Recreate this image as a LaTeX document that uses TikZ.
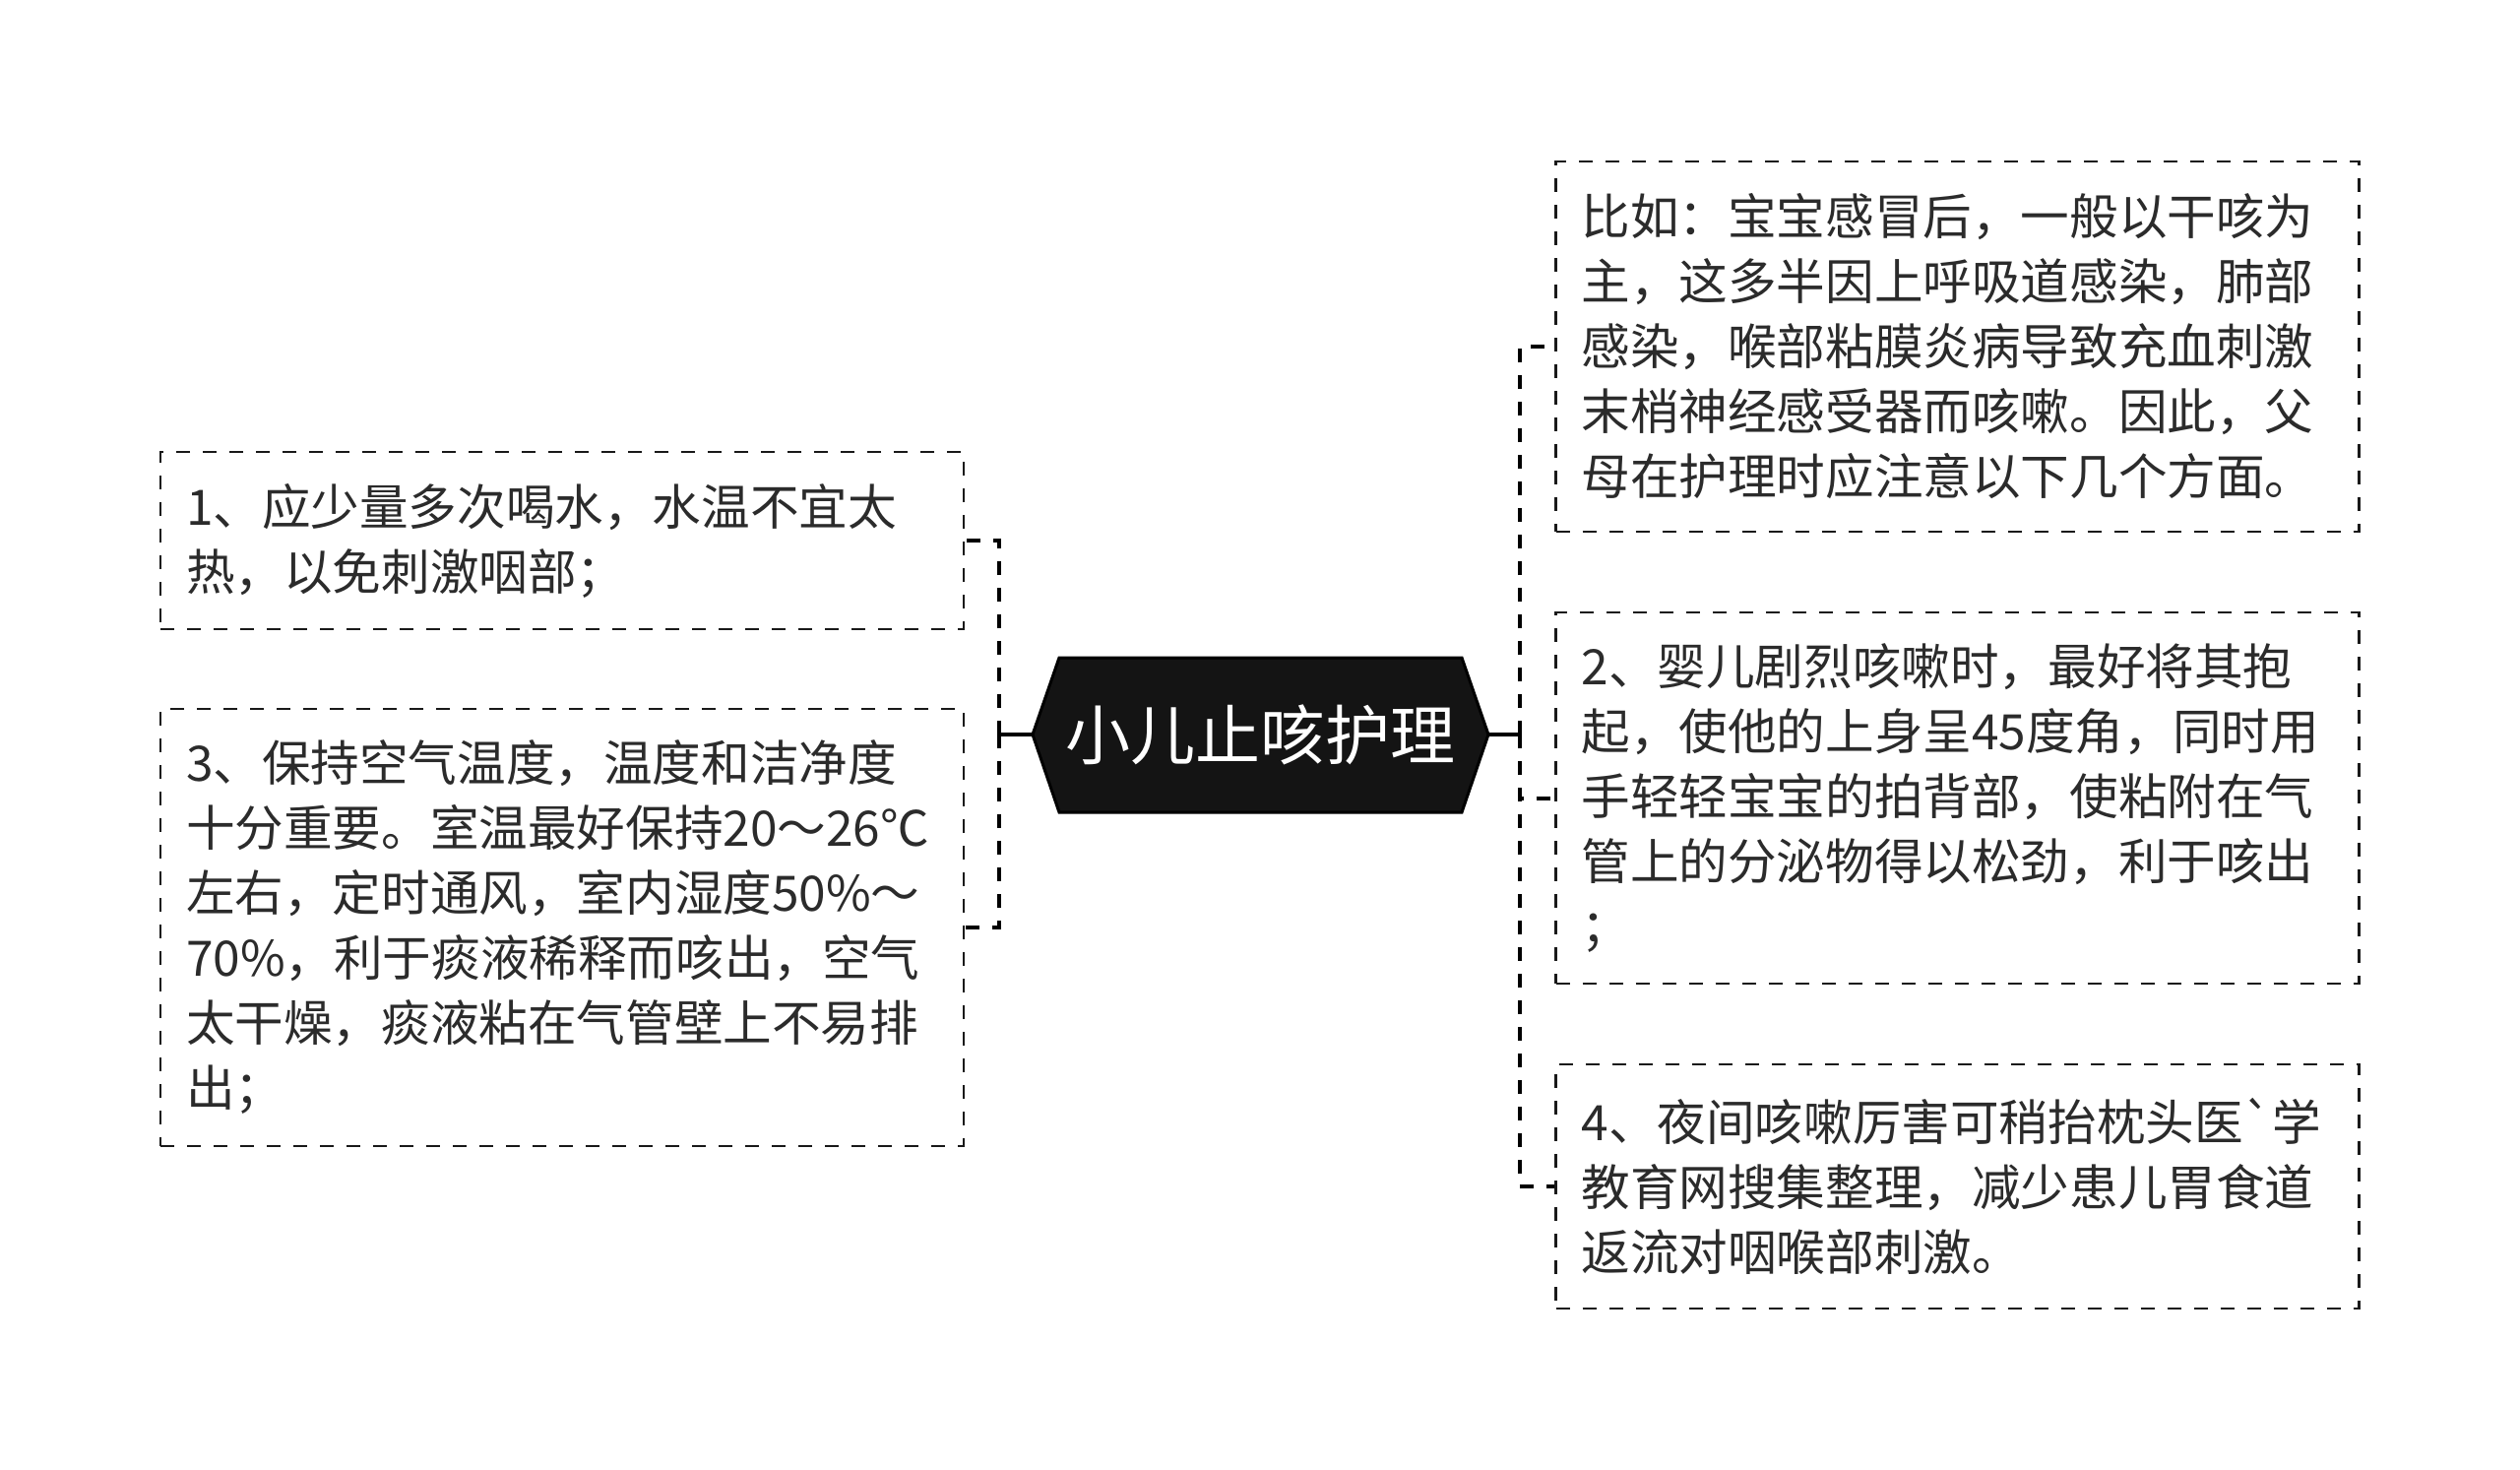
\documentclass[tikz,border=0pt]{standalone}
\usepackage{fontspec}
\setmainfont{Noto Sans CJK SC}
\definecolor{ink}{HTML}{2B2B2B}
\newcommand{\gravemark}{\XeTeXglyph\XeTeXcharglyph"60\relax}
\begin{document}
\begin{tikzpicture}[x=1pt,y=-1pt,
  leaf/.style={draw=black!90, line width=2.4pt, dash pattern=on 14pt off 13pt,
    minimum width=816pt, text width=764pt, inner xsep=26pt, inner ysep=0pt,
    align=left, text=ink, font=\fontsize{49.6}{66}\selectfont, anchor=center},
  link/.style={line width=4pt, dash pattern=on 14pt off 13pt, draw=black},
  stub/.style={line width=4pt, draw=black},
  hexa/.style={fill=black!92, draw=black, line width=3pt, line join=miter}]
\useasboundingbox (0,0) rectangle (2560,1493);
% central node
\path[hexa] (1049,746) -- (1076,668) -- (1485,668) -- (1512,746) -- (1485,825) -- (1076,825) -- cycle;
\node[text=white, font=\fontsize{66}{72}\selectfont, minimum width=463pt, minimum height=157pt, inner sep=0pt] (root) at (1280.5,746) {小儿止咳护理};
% left boxes
\node[leaf, minimum height=180pt] (b1) at (571,549) {1、应少量多次喝水，水温不宜太\\热，以免刺激咽部；};
\node[leaf, minimum height=444pt] (b3) at (571,942) {3、保持空气温度，温度和洁净度\\十分重要。室温最好保持20～26℃\\左右，定时通风，室内湿度50\%～\\70\%，利于痰液稀释而咳出，空气\\太干燥，痰液粘在气管壁上不易排\\出；};
% right boxes
\node[leaf, minimum height=376pt] (ba) at (1988.5,352) {比如：宝宝感冒后，一般以干咳为\\主，这多半因上呼吸道感染，肺部\\感染，喉部粘膜炎病导致充血刺激\\末梢神经感受器而咳嗽。因此，父\\母在护理时应注意以下几个方面。};
\node[leaf, minimum height=377pt] (b2) at (1988.5,810.5) {2、婴儿剧烈咳嗽时，最好将其抱\\起，使他的上身呈45度角，同时用\\手轻轻宝宝的拍背部，使粘附在气\\管上的分泌物得以松劲，利于咳出\\；};
\node[leaf, minimum height=248pt] (b4) at (1988.5,1205) {4、夜间咳嗽厉害可稍抬枕头医\gravemark 学\\教育网搜集整理，减少患儿胃食道\\返流对咽喉部刺激。};
% connectors
\coordinate (jl) at (1015,746);
\coordinate (jr) at (1544,746);
\draw[stub] (root.west) -- (jl);
\draw[stub] (root.east) -- (jr);
\draw[link] (jl) |- (b1.east);
\draw[link] (jl) |- (b3.east);
\draw[link] (jr) |- (ba.west);
\draw[link] (jr) |- (b2.west);
\draw[link] (jr) |- (b4.west);
\end{tikzpicture}
\end{document}
